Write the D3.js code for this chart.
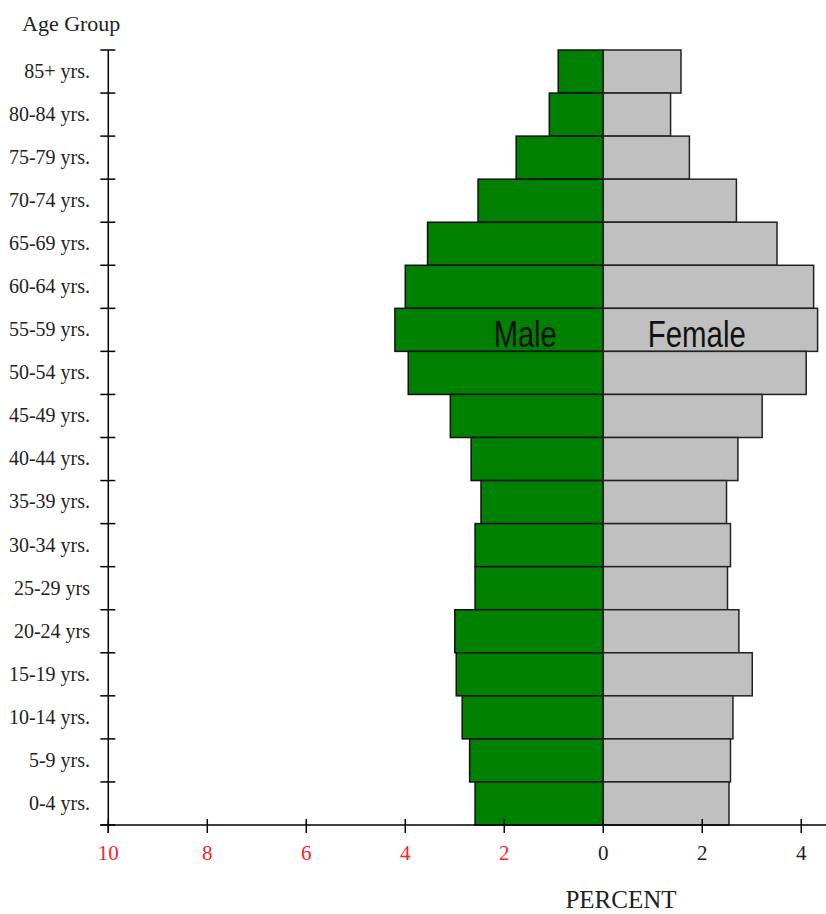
<!DOCTYPE html>
<html>
<head>
<meta charset="utf-8">
<script src="https://cdn.jsdelivr.net/npm/d3@7"></script>
<style>
	body { margin: 0; background: #fff; }
	svg { display: block; }
	.lbl { font-family: "Liberation Serif", "Times New Roman", serif; }
</style>
</head>
<body>
<div id="chart"></div>
<script>
// 年龄组，从上往下
const ageGroups = ["85+ yrs.", "80-84 yrs.", "75-79 yrs.", "70-74 yrs.", "65-69 yrs.", "60-64 yrs.",
	"55-59 yrs.", "50-54 yrs.", "45-49 yrs.", "40-44 yrs.", "35-39 yrs.", "30-34 yrs.",
	"25-29 yrs", "20-24 yrs", "15-19 yrs.", "10-14 yrs.", "5-9 yrs.", "0-4 yrs."];
const maleValues = [0.91, 1.09, 1.76, 2.53, 3.55, 4.0, 4.21, 3.94, 3.09, 2.67, 2.47, 2.59,
	2.59, 3.0, 2.97, 2.85, 2.70, 2.59];
const femaleValues = [1.57, 1.36, 1.74, 2.69, 3.51, 4.25, 4.33, 4.10, 3.21, 2.72, 2.49, 2.57,
	2.51, 2.74, 3.01, 2.62, 2.57, 2.54];
const xTicks = [-10, -8, -6, -4, -2, 0, 2, 4];

const width = 826, height = 914;

const svg = d3.select("#chart")
	.append("svg")
	.attr("width", width)
	.attr("height", height);

const x = d3.scaleLinear().domain([-10, 4.5]).range([108.3, 826]);
const y = d3.scaleBand().domain(ageGroups).range([50, 825]).padding(0);

// 男性条形（向左）
svg.selectAll(".male")
	.data(ageGroups)
	.enter().append("rect")
	.attr("class", "male")
	.attr("x", (d, i) => x(-maleValues[i]))
	.attr("y", d => y(d))
	.attr("width", (d, i) => x(0) - x(-maleValues[i]))
	.attr("height", y.bandwidth())
	.attr("fill", "#008000")
	.attr("stroke", "#111")
	.attr("stroke-width", 1.5);

// 女性条形（向右）
svg.selectAll(".female")
	.data(ageGroups)
	.enter().append("rect")
	.attr("class", "female")
	.attr("x", x(0))
	.attr("y", d => y(d))
	.attr("width", (d, i) => x(femaleValues[i]) - x(0))
	.attr("height", y.bandwidth())
	.attr("fill", "#c0c0c0")
	.attr("stroke", "#222")
	.attr("stroke-width", 1.5);

// y 轴：竖线加交叉刻度
const ax = x(-10);
svg.append("line")
	.attr("x1", ax).attr("x2", ax)
	.attr("y1", y.range()[0]).attr("y2", 833)
	.attr("stroke", "#000").attr("stroke-width", 1.5);

const bounds = ageGroups.map(d => y(d)).concat([y.range()[1]]);
svg.selectAll(".ytick")
	.data(bounds)
	.enter().append("line")
	.attr("x1", ax - 8).attr("x2", ax + 7)
	.attr("y1", d => d).attr("y2", d => d)
	.attr("stroke", "#000").attr("stroke-width", 1.5);

svg.selectAll(".ylabel")
	.data(ageGroups)
	.enter().append("text")
	.attr("class", "lbl")
	.attr("x", 90)
	.attr("y", d => y(d) + y.bandwidth() / 2)
	.attr("dy", "0.32em")
	.attr("text-anchor", "end")
	.style("font-size", "20px")
	.attr("fill", "#222")
	.text(d => d);

svg.append("text")
	.attr("class", "lbl")
	.attr("x", 22).attr("y", 31)
	.style("font-size", "22px")
	.attr("fill", "#222")
	.text("Age Group");

// x 轴
const base = y.range()[1];
svg.append("line")
	.attr("x1", ax - 8).attr("x2", width)
	.attr("y1", base).attr("y2", base)
	.attr("stroke", "#000").attr("stroke-width", 1.5);

svg.selectAll(".xtick")
	.data(xTicks)
	.enter().append("line")
	.attr("x1", d => x(d)).attr("x2", d => x(d))
	.attr("y1", base - 6).attr("y2", base + 8)
	.attr("stroke", "#000").attr("stroke-width", 1.5);

svg.selectAll(".xlabel")
	.data(xTicks)
	.enter().append("text")
	.attr("class", "lbl")
	.attr("x", d => x(d))
	.attr("y", 860)
	.attr("text-anchor", "middle")
	.style("font-size", "21px")
	.attr("fill", d => d < 0 ? "#f22" : "#222")
	.text(d => Math.abs(d));

svg.append("text")
	.attr("class", "lbl")
	.attr("x", 621).attr("y", 908)
	.attr("text-anchor", "middle")
	.style("font-size", "25px")
	.attr("fill", "#222")
	.text("PERCENT");

// Male / Female 标注
const mid = y("55-59 yrs.") + y.bandwidth() - 4;
svg.append("text")
	.attr("x", x(-0.94)).attr("y", mid)
	.attr("text-anchor", "end")
	.attr("textLength", 63)
	.attr("lengthAdjust", "spacingAndGlyphs")
	.style("font-family", "'Liberation Sans', Arial, sans-serif")
	.style("font-size", "36px")
	.attr("fill", "#111")
	.text("Male");

svg.append("text")
	.attr("x", x(0.9)).attr("y", mid)
	.attr("textLength", 98)
	.attr("lengthAdjust", "spacingAndGlyphs")
	.style("font-family", "'Liberation Sans', Arial, sans-serif")
	.style("font-size", "36px")
	.attr("fill", "#111")
	.text("Female");
</script>
</body>
</html>
